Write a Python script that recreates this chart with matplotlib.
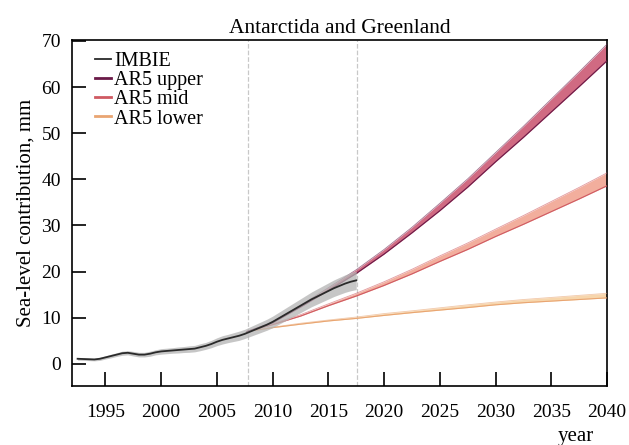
import numpy as np
import matplotlib.pyplot as plt

plt.rcParams['font.family'] = ['Liberation Serif', 'DejaVu Serif']

# IMBIE reconstruction (mm) with uncertainty half-width
imbie_years = [1992.5, 1993, 1993.5, 1994, 1994.5, 1995, 1995.5, 1996, 1996.5, 1997,
               1997.5, 1998, 1998.5, 1999, 1999.5, 2000, 2000.5, 2001, 2001.5, 2002,
               2002.5, 2003, 2003.5, 2004, 2004.5, 2005, 2005.5, 2006, 2006.5, 2007,
               2007.5, 2008, 2008.5, 2009, 2009.5, 2010, 2010.5, 2011, 2011.5, 2012,
               2012.5, 2013, 2013.5, 2014, 2014.5, 2015, 2015.5, 2016, 2016.5, 2017, 2017.5]
imbie_mm = [1.1, 1.05, 1.0, 0.95, 1.1, 1.4, 1.7, 2.0, 2.3, 2.4,
            2.2, 2.0, 2.0, 2.2, 2.5, 2.7, 2.8, 2.9, 3.0, 3.1,
            3.2, 3.3, 3.6, 3.9, 4.3, 4.8, 5.2, 5.5, 5.8, 6.1,
            6.5, 7.0, 7.5, 8.0, 8.5, 9.1, 9.8, 10.5, 11.2, 11.9,
            12.6, 13.3, 14.0, 14.6, 15.2, 15.8, 16.4, 16.9, 17.4, 17.8, 18.1]
imbie_err = [0.3, 0.3, 0.3, 0.3, 0.35, 0.35, 0.4, 0.4, 0.45, 0.45,
             0.5, 0.5, 0.5, 0.55, 0.55, 0.6, 0.6, 0.6, 0.65, 0.65,
             0.7, 0.7, 0.75, 0.75, 0.8, 0.85, 0.9, 0.9, 0.95, 1.0,
             1.0, 1.05, 1.1, 1.15, 1.2, 1.25, 1.3, 1.35, 1.4, 1.45,
             1.5, 1.55, 1.6, 1.65, 1.7, 1.75, 1.8, 1.85, 1.9, 1.95, 2.0]

# AR5 projections (mm)
proj_years = [2007.7, 2010, 2012.5, 2015, 2017.5, 2020, 2022.5, 2025, 2027.5,
              2030, 2032.5, 2035, 2037.5, 2040]
upper_mm = [7.0, 9.0, 12.5, 16.2, 20.0, 24.3, 29.0, 34.0, 39.2, 44.8, 50.3, 56.0, 61.7, 67.5]
upper_err = [0.0, 0.1, 0.2, 0.3, 0.4, 0.5, 0.6, 0.8, 0.9, 1.0, 1.2, 1.4, 1.6, 1.8]
mid_mm = [7.0, 8.6, 10.5, 12.8, 15.0, 17.4, 20.0, 22.8, 25.5, 28.4, 31.2, 34.1, 37.0, 40.0]
mid_err = [0.0, 0.1, 0.15, 0.2, 0.3, 0.4, 0.5, 0.6, 0.7, 0.8, 0.95, 1.1, 1.25, 1.4]
lower_mm = [7.0, 7.9, 8.7, 9.4, 10.0, 10.7, 11.3, 11.9, 12.5, 13.1, 13.6, 14.0, 14.4, 14.8]
lower_err = [0.0, 0.05, 0.1, 0.1, 0.15, 0.2, 0.2, 0.25, 0.3, 0.3, 0.35, 0.4, 0.45, 0.5]

fig = plt.figure(figsize=(6.29, 4.45), dpi=100)
ax = fig.add_axes([0.1145, 0.1326, 0.8505, 0.7774])

ax.axvline(2007.75, color='#c8c8c8', lw=0.9, ls='--', zorder=0)
ax.axvline(2017.55, color='#c8c8c8', lw=0.9, ls='--', zorder=0)

py = np.array(proj_years)
series = [
    ('AR5 lower', lower_mm, lower_err, '#e9a572', '#f6cf9e'),
    ('AR5 mid', mid_mm, mid_err, '#cf5a62', '#f0a08c'),
    ('AR5 upper', upper_mm, upper_err, '#6a1a48', '#c8506c'),
]
handles = {}
for name, vals, err, lc, fc in series:
    v = np.array(vals)
    e = np.array(err)
    ax.fill_between(py, v - e, v + e, color=fc, alpha=0.85, lw=0, zorder=2)
    ax.plot(py, v - e, color=lc, lw=0.8, zorder=3)
    ax.plot(py, v + e, color=lc, lw=0.6, alpha=0.6, zorder=3)
    handles[name], = ax.plot([], [], color=lc, lw=2)

iy = np.array(imbie_years)
iv = np.array(imbie_mm)
ie = np.array(imbie_err)
ax.fill_between(iy, iv - ie, iv + ie, color='#b4b4b4', alpha=0.75, lw=0, zorder=4)
handles['IMBIE'], = ax.plot(iy, iv, color='#2a2a2a', lw=1.3, zorder=5)

ax.set_xlim(1992, 2040)
ax.set_ylim(-4.8, 70.2)
ax.set_xticks(range(1995, 2041, 5))
ax.set_yticks(range(0, 71, 10))
ax.tick_params(axis='both', direction='in', length=10, width=1.2, labelsize=14)
ax.tick_params(axis='x', pad=13)
ax.tick_params(axis='y', pad=8)
for s in ax.spines.values():
    s.set_linewidth(1.2)

ax.set_title('Antarctida and Greenland', fontsize=15.5, pad=5)
ax.set_ylabel('Sea-level contribution, mm', fontsize=15, labelpad=4)
fig.text(0.915, 0.008, 'year', fontsize=15, ha='center')

order = ['IMBIE', 'AR5 upper', 'AR5 mid', 'AR5 lower']
ax.legend([handles[k] for k in order], order, loc='upper left', frameon=False,
          fontsize=14.5, handlelength=0.8, handletextpad=0.15, labelspacing=0.0,
          borderaxespad=0.2, bbox_to_anchor=(0.02, 1.0))

fig.savefig('out.png', dpi=100)
